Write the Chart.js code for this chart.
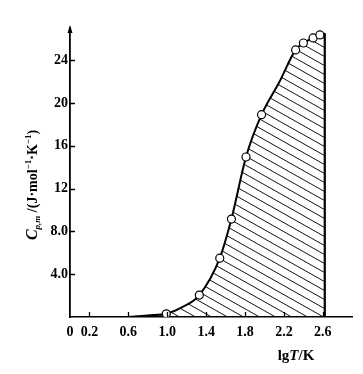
<!DOCTYPE html>
<html><head><meta charset="utf-8">
<script src="https://cdn.jsdelivr.net/npm/chart.js@4/dist/chart.umd.min.js"></script>
<style>html,body{margin:0;padding:0;background:#fff}#wrap{width:363px;height:374px}</style>
</head><body><div id="wrap"><canvas id="c" width="363" height="374"></canvas></div>
<script>
// ---- data ----
const xTickValues = [0, 0.2, 0.6, 1.0, 1.4, 1.8, 2.2, 2.6];
const xTickLabels = ['0', '0.2', '0.6', '1.0', '1.4', '1.8', '2.2', '2.6'];
const yTickValues = [4, 8, 12, 16, 20, 24];
const yTickLabels = ['4.0', '8.0', '12', '16', '20', '24'];
// measured points (circles)
const pointLgT = [0.99, 1.33, 1.54, 1.66, 1.81, 1.97, 2.32, 2.40, 2.50, 2.57];
const pointCp  = [0.3, 2.05, 5.5, 9.15, 14.95, 18.9, 24.95, 25.6, 26.07, 26.35];
// drawn curve (hatched area boundary)
const curveLgT = [0.60, 0.80, 0.99, 1.15, 1.33, 1.54, 1.66, 1.81, 1.97, 2.15, 2.32, 2.40, 2.50, 2.57, 2.62];
const curveCp  = [0, 0.15, 0.3, 0.9, 2.05, 5.5, 9.15, 14.95, 18.9, 21.9, 24.95, 25.6, 26.07, 26.35, 26.5];
// right boundary (vertical line)
const edgeLgT = [2.62, 2.62];
const edgeCp  = [26.5, 0];

const SERIF = '"Liberation Serif", "DejaVu Serif", serif';

// hatch pattern
function makeHatch() {
  const pc = document.createElement('canvas');
  pc.width = 16; pc.height = 9;
  const g = pc.getContext('2d');
  g.strokeStyle = '#111';
  g.lineWidth = 1;
  g.beginPath();
  for (const k of [-1, 0, 1]) {
    g.moveTo(-16, -9 + k * 9);
    g.lineTo(32, 18 + k * 9);
  }
  g.stroke();
  return g.createPattern(pc, 'repeat');
}
const ctx0 = document.getElementById('c').getContext('2d');
const hatch = makeHatch();

const decor = {
  id: 'decor',
  afterDraw(chart) {
    const ctx = chart.ctx;
    const ca = chart.chartArea;
    const xs = chart.scales.x, ys = chart.scales.y;
    ctx.save();
    ctx.strokeStyle = '#000';
    ctx.lineWidth = 1.3;
    // inward ticks
    ctx.beginPath();
    xTickValues.forEach(v => {
      if (v === 0) return;
      const px = Math.round(xs.getPixelForValue(v)) + 0.5;
      ctx.moveTo(px, ca.bottom); ctx.lineTo(px, ca.bottom - 5);
    });
    yTickValues.forEach(v => {
      const py = Math.round(ys.getPixelForValue(v)) + 0.5;
      ctx.moveTo(ca.left, py); ctx.lineTo(ca.left + 5, py);
    });
    ctx.stroke();
    // arrow at top of y axis
    ctx.fillStyle = '#000';
    ctx.beginPath();
    ctx.moveTo(ca.left, ca.top - 3);
    ctx.lineTo(ca.left - 2.5, ca.top + 5);
    ctx.lineTo(ca.left + 2.5, ca.top + 5);
    ctx.closePath();
    ctx.fill();

    // y title (rotated, rich text)
    const segs = [
      {t: 'C', f: 'italic bold 16px ' + SERIF, dy: 0},
      {t: 'p,m', f: 'italic bold 9px ' + SERIF, dy: 3},
      {t: ' /(J·mol', f: 'bold 14px ' + SERIF, dy: 0},
      {t: '−1', f: 'bold 9px ' + SERIF, dy: -6},
      {t: '·K', f: 'bold 14px ' + SERIF, dy: 0},
      {t: '−1', f: 'bold 9px ' + SERIF, dy: -6},
      {t: ')', f: 'bold 14px ' + SERIF, dy: 0}
    ];
    ctx.translate(32, 185);
    ctx.rotate(-Math.PI / 2);
    ctx.textBaseline = 'alphabetic';
    let total = 0;
    segs.forEach(s => { ctx.font = s.f; s.w = ctx.measureText(s.t).width; total += s.w; });
    let x = -total / 2;
    segs.forEach(s => { ctx.font = s.f; ctx.fillText(s.t, x, 5 + s.dy); x += s.w; });
    ctx.restore();

    // x title
    ctx.save();
    ctx.fillStyle = '#000';
    ctx.textBaseline = 'alphabetic';
    const xs2 = [
      {t: 'lg', f: 'bold 15px ' + SERIF},
      {t: 'T', f: 'italic bold 15px ' + SERIF},
      {t: '/K', f: 'bold 15px ' + SERIF}
    ];
    let tw = 0;
    xs2.forEach(s => { ctx.font = s.f; s.w = ctx.measureText(s.t).width; tw += s.w; });
    let xx = 296 - tw / 2;
    xs2.forEach(s => { ctx.font = s.f; ctx.fillText(s.t, xx, 360); xx += s.w; });
    ctx.restore();
  }
};

new Chart(ctx0, {
  type: 'scatter',
  data: {
    datasets: [
      {
        label: 'measured',
        data: pointLgT.map((v, i) => ({x: v, y: pointCp[i]})),
        showLine: false,
        pointRadius: 4,
        pointBackgroundColor: '#fff',
        pointBorderColor: '#000',
        pointBorderWidth: 1.2,
        order: 0
      },
      {
        label: 'curve',
        data: curveLgT.map((v, i) => ({x: v, y: curveCp[i]})),
        showLine: true,
        cubicInterpolationMode: 'monotone',
        borderColor: '#000',
        borderWidth: 2,
        pointRadius: 0,
        fill: 'origin',
        backgroundColor: hatch,
        order: 2
      },
      {
        label: 'edge',
        data: edgeLgT.map((v, i) => ({x: v, y: edgeCp[i]})),
        showLine: true,
        borderColor: '#000',
        borderWidth: 2.2,
        pointRadius: 0,
        fill: false,
        order: 1
      }
    ]
  },
  options: {
    responsive: false,
    animation: false,
    devicePixelRatio: 1,
    layout: {padding: {left: 0, right: 11, top: 28, bottom: 0}},
    plugins: {legend: {display: false}, tooltip: {enabled: false}},
    scales: {
      x: {
        type: 'linear', min: 0, max: 2.9,
        afterBuildTicks: s => { s.ticks = xTickValues.map(v => ({value: v})); },
        afterFit: s => { s.height = 57; },
        grid: {display: false, drawTicks: false},
        border: {display: true, color: '#000', width: 1.5},
        ticks: {
          autoSkip: false, maxRotation: 0, padding: 7, color: '#000',
          font: {family: SERIF, size: 14, weight: 'bold'},
          callback: (v) => { const i = xTickValues.indexOf(v); return i >= 0 ? xTickLabels[i] : ''; }
        }
      },
      y: {
        type: 'linear', min: 0, max: 27,
        afterBuildTicks: s => { s.ticks = yTickValues.map(v => ({value: v})); },
        afterFit: s => { s.width = 70; },
        grid: {display: false, drawTicks: false},
        border: {display: true, color: '#000', width: 1.8},
        ticks: {
          autoSkip: false, padding: 2, color: '#000',
          font: {family: SERIF, size: 14, weight: 'bold'},
          callback: (v) => { const i = yTickValues.indexOf(v); return i >= 0 ? yTickLabels[i] : ''; }
        }
      }
    }
  },
  plugins: [decor]
});
</script>
</body></html>
